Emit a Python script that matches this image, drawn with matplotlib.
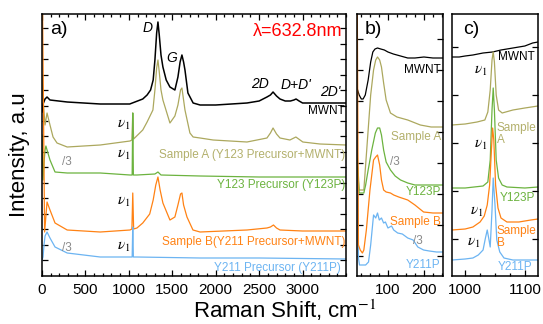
import matplotlib
matplotlib.use('Agg')
import matplotlib.pyplot as plt
from matplotlib.ticker import MultipleLocator, FixedLocator
import numpy as np

plt.rcParams['font.family'] = ['Liberation Sans', 'DejaVu Sans']
plt.rcParams['mathtext.fontset'] = 'stix'

# colours of the five spectra
c_mwnt = 'black'
c_sa = '#aca85e'
c_sa_txt = '#b3b06c'
c_y123 = '#6cb33f'
c_sb = '#ff8214'
c_y211 = '#6cb4f2'
c_div = '#8a8a8a'

# ---- panel a: full range, Raman shift (cm-1) / intensity (a.u., offset)
mwnt_a_x = [0, 12, 35, 58, 92, 290, 670, 1010, 1100, 1160, 1210, 1250, 1280, 1300, 1320,
            1335, 1350, 1370, 1392, 1430, 1473, 1530, 1565, 1590, 1611, 1630, 1646, 1680,
            1740, 1820, 2000, 2360, 2500, 2590, 2630, 2660, 2700, 2740, 2800, 2860, 2900,
            2925, 2960, 3000, 3200, 3500]
mwnt_a_y = [164, 172, 177, 179, 176, 174, 172, 172, 175, 177, 181, 186, 196, 216, 243,
            254, 241, 221, 209, 196, 189, 186, 199, 214, 221, 214, 206, 183,
            173, 171, 171, 173, 175, 179, 181, 184, 180, 177, 175, 175, 176,
            177, 175, 173, 173, 173]

sa_a_x = [0, 12, 35, 58, 92, 127, 173, 290, 670, 1013, 1035, 1045, 1055, 1160, 1210,
          1277, 1300, 1320, 1335, 1350, 1370, 1392, 1473, 1530, 1565, 1595, 1611, 1630,
          1646, 1703, 1740, 1820, 1970, 2360, 2590, 2630, 2660, 2700, 2740, 2854, 2923,
          3003, 3200, 3500]
sa_a_y = [201, 176, 151, 163, 151, 139, 133, 129, 131, 135, 136, 163, 137, 146, 154,
          166, 186, 208, 216, 204, 186, 176, 153, 160, 171, 186, 188, 176,
          166, 143, 139, 138, 136, 134, 138, 143, 148, 142, 138, 136, 139,
          134, 132, 131]

y123_a_x = [0, 12, 23, 35, 45, 58, 92, 150, 290, 670, 1013, 1038, 1045, 1052, 1093,
            1300, 1335, 1370, 1820, 2500, 3500]
y123_a_y = [141, 96, 113, 126, 130, 126, 116, 104, 103, 103, 101, 101, 163, 101, 101,
            102, 104, 101, 100, 99, 99]

sb_a_x = [0, 30, 58, 92, 150, 290, 670, 1013, 1035, 1045, 1055, 1093, 1160, 1240, 1280,
          1310, 1335, 1360, 1392, 1473, 1530, 1565, 1595, 1611, 1630, 1669, 1738, 1820,
          2360, 2590, 2630, 2665, 2700, 2740, 3000, 3500]
sb_a_y = [326, 44, 74, 66, 53, 46, 44, 46, 47, 83, 47, 48, 53, 62, 76,
          91, 99, 86, 73, 56, 59, 71, 82, 83, 71, 59, 46, 44,
          46, 48, 49, 51, 48, 46, 45, 45]

y211_a_x = [0, 12, 23, 35, 58, 92, 150, 290, 670, 1013, 1038, 1045, 1052, 1093, 1820,
            2500, 3500]
y211_a_y = [16, 19, 31, 40, 44, 38, 29, 23, 19, 19, 19, 49, 19, 19, 18, 18, 17]

# ---- panel b: low-frequency region
mwnt_b_x = [14, 20, 26, 31, 37, 45, 52, 58, 64, 71, 80, 90, 100, 115, 135, 155, 175, 200, 225, 253]
mwnt_b_y = [188, 181, 177, 177, 181, 196, 214, 224, 227, 228, 227, 226, 224, 222, 220, 218,
            218, 219, 218, 218]

sa_b_x = [14, 20, 33, 38, 45, 52, 60, 66, 71, 77, 82, 88, 95, 107, 125, 155, 190, 220, 253]
sa_b_y = [126, 86, 86, 111, 146, 181, 206, 216, 219, 216, 209, 193, 176, 163, 159, 156, 151,
          149, 149]

y123_b_x = [14, 20, 33, 38, 45, 55, 65, 71, 77, 82, 88, 95, 107, 120, 135, 155, 175, 199, 225, 253]
y123_b_y = [116, 83, 83, 91, 106, 126, 143, 148, 148, 141, 126, 114, 106, 100, 96, 93, 91, 91,
            91, 91]

sb_b_x = [14, 18, 23, 29, 33, 40, 50, 60, 66, 71, 77, 82, 88, 95, 107, 116, 130, 155, 175, 199,
          225, 253]
sb_b_y = [326, 31, 26, 23, 26, 46, 86, 116, 119, 121, 111, 96, 86, 84, 83, 81, 79, 76, 71, 64,
          63, 63]

y211_b_x = [14, 18, 21, 29, 38, 46, 52, 60, 66, 71, 76, 82, 88, 93, 100, 110, 116, 127, 140,
            155, 170, 183, 199, 215, 235, 253]
y211_b_y = [146, 18, 11, 11, 11, 14, 31, 61, 58, 63, 56, 58, 53, 54, 48, 50, 46, 43, 42,
            38, 36, 29, 26, 25, 24, 24]

# ---- panel c: nu1 region
mwnt_c_x = [978, 990, 1000, 1013, 1030, 1046, 1060, 1080, 1100, 1113, 1122]
mwnt_c_y = [219, 219, 220, 221, 223, 224, 226, 228, 230, 233, 234]

sa_c_x = [978, 1000, 1020, 1033, 1038, 1042, 1045, 1047, 1049, 1052, 1056, 1062, 1080, 1100, 1122]
sa_c_y = [151, 152, 154, 156, 164, 186, 216, 224, 214, 181, 166, 163, 166, 168, 170]

y123_c_x = [978, 1000, 1030, 1038, 1042, 1045, 1047, 1049, 1052, 1056, 1062, 1070, 1100, 1122]
y123_c_y = [88, 88, 90, 94, 116, 166, 188, 166, 116, 98, 91, 89, 88, 89]

sb_c_x = [978, 1000, 1013, 1025, 1032, 1037, 1041, 1044, 1046, 1048, 1051, 1055, 1060, 1070,
          1090, 1110, 1122]
sb_c_y = [46, 47, 49, 54, 60, 71, 91, 126, 148, 136, 91, 68, 58, 54, 54, 56, 57]

y211_c_x = [978, 1000, 1013, 1022, 1030, 1034, 1037, 1040, 1042, 1045, 1047, 1050, 1053, 1058,
            1065, 1080, 1122]
y211_c_y = [16, 17, 18, 21, 26, 38, 46, 36, 29, 66, 98, 71, 36, 24, 18, 16, 16]

W, H = 543, 324
fig = plt.figure(figsize=(W / 100, H / 100), dpi=100)
ax_a = fig.add_axes([42 / W, 1 - 276 / H, 304 / W, 262 / H])
ax_b = fig.add_axes([357 / W, 1 - 276 / H, 86 / W, 262 / H])
ax_c = fig.add_axes([452 / W, 1 - 276 / H, 86 / W, 262 / H])


def draw(ax, series):
    for x, y, col, lw in series:
        ax.plot(x, y, color=col, lw=lw)


draw(ax_a, [(sa_a_x, sa_a_y, c_sa, 0.9), (mwnt_a_x, mwnt_a_y, c_mwnt, 1.1),
            (y123_a_x, y123_a_y, c_y123, 0.9), (sb_a_x, sb_a_y, c_sb, 0.9),
            (y211_a_x, y211_a_y, c_y211, 0.9)])
draw(ax_b, [(y211_b_x, y211_b_y, c_y211, 0.9), (sa_b_x, sa_b_y, c_sa, 0.9),
            (mwnt_b_x, mwnt_b_y, c_mwnt, 0.9), (y123_b_x, y123_b_y, c_y123, 0.9),
            (sb_b_x, sb_b_y, c_sb, 0.9)])
draw(ax_c, [(mwnt_c_x, mwnt_c_y, c_mwnt, 0.9), (sa_c_x, sa_c_y, c_sa, 0.9),
            (y123_c_x, y123_c_y, c_y123, 0.9), (sb_c_x, sb_c_y, c_sb, 0.9),
            (y211_c_x, y211_c_y, c_y211, 0.9)])

ax_a.set_xlim(0, 3500)
ax_b.set_xlim(14, 253)
ax_c.set_xlim(978, 1122)

ax_a.xaxis.set_major_locator(FixedLocator([0, 500, 1000, 1500, 2000, 2500, 3000]))
ax_a.xaxis.set_minor_locator(MultipleLocator(100))
ax_b.xaxis.set_major_locator(FixedLocator([100, 200]))
ax_b.xaxis.set_minor_locator(MultipleLocator(25))
ax_c.xaxis.set_major_locator(FixedLocator([1000, 1100]))
ax_c.xaxis.set_minor_locator(MultipleLocator(25))

ax_a.yaxis.set_major_locator(FixedLocator(np.arange(16, 262, 15.45)))
ax_b.yaxis.set_major_locator(FixedLocator(np.arange(20, 262, 31)))
ax_c.yaxis.set_major_locator(FixedLocator(np.arange(37, 262, 48)))

for ax in (ax_a, ax_b, ax_c):
    ax.set_ylim(0, 262)
    ax.tick_params(which='both', direction='in', top=True, right=True, labelleft=False,
                   width=0.9, labelsize=11, pad=5)
    ax.tick_params(which='major', length=4)
    ax.tick_params(which='minor', length=2.2)
    for s in ax.spines.values():
        s.set_linewidth(1.1)
ax_c.tick_params(which='both', top=False)

# panel a annotations
ax_a.text(90, 246, 'a)', fontsize=14, va='center')
ax_a.text(3464, 245, 'λ=632.8nm', color='red', fontsize=13, ha='right', va='center')
ax_a.text(1220, 248, 'D', fontsize=10, style='italic', ha='center', va='center')
ax_a.text(1496, 218, 'G', fontsize=10, style='italic', ha='center', va='center')
ax_a.text(2509, 192, '2D', fontsize=10, style='italic', ha='center', va='center')
ax_a.text(2923, 191, "D+D'", fontsize=10, style='italic', ha='center', va='center')
ax_a.text(3314, 184, "2D'", fontsize=10, style='italic', ha='center', va='center')
ax_a.text(3490, 165, 'MWNT', fontsize=8.5, ha='right', va='center')
ax_a.text(3490, 121, 'Sample A (Y123 Precursor+MWNT)', color=c_sa_txt, fontsize=8.5,
          ha='right', va='center')
ax_a.text(3490, 91, 'Y123 Precursor (Y123P)', color=c_y123, fontsize=8.5,
          ha='right', va='center')
ax_a.text(3490, 34, 'Sample B(Y211 Precursor+MWNT)', color=c_sb, fontsize=8.5,
          ha='right', va='center')
ax_a.text(3440, 8, 'Y211 Precursor (Y211P)', color=c_y211, fontsize=8.5,
          ha='right', va='center')
ax_a.text(230, 114, '/3', color=c_div, fontsize=8.5, va='center')
ax_a.text(230, 28, '/3', color=c_div, fontsize=8.5, va='center')
for yy in (151, 121, 74, 29):
    ax_a.text(1013, yy, r'$\nu_1$', fontsize=11, ha='right', va='center')

# panel b annotations
ax_b.text(34, 246, 'b)', fontsize=14, va='center')
ax_b.text(247, 206, 'MWNT', fontsize=8.5, ha='right', va='center')
ax_b.text(247, 139, 'Sample A', color=c_sa_txt, fontsize=8.5, ha='right', va='center')
ax_b.text(107, 114, '/3', color=c_div, fontsize=8.5, va='center')
ax_b.text(247, 84, 'Y123P', color=c_y123, fontsize=8.5, ha='right', va='center')
ax_b.text(247, 54, 'Sample B', color=c_sb, fontsize=8.5, ha='right', va='center')
ax_b.text(169, 35, '/3', color=c_div, fontsize=8.5, va='center')
ax_b.text(247, 11, 'Y211P', color=c_y211, fontsize=8.5, ha='right', va='center')

# panel c annotations
ax_c.text(996, 246, 'c)', fontsize=14, va='center')
ax_c.text(1055, 219, 'MWNT', fontsize=8.5, va='center')
ax_c.text(1053, 142, 'Sample\nA', color=c_sa_txt, fontsize=8.5, va='center', linespacing=1.0)
ax_c.text(1058, 78, 'Y123P', color=c_y123, fontsize=8.5, va='center')
ax_c.text(1053, 39, 'Sample\nB', color=c_sb, fontsize=8.5, va='center', linespacing=1.0)
ax_c.text(1055, 9, 'Y211P', color=c_y211, fontsize=8.5, va='center')
ax_c.text(1037, 205, r'$\nu_1$', fontsize=11, ha='right', va='center')
ax_c.text(1037, 131, r'$\nu_1$', fontsize=11, ha='right', va='center')
ax_c.text(1030, 64, r'$\nu_1$', fontsize=11, ha='right', va='center')
ax_c.text(1025, 33, r'$\nu_1$', fontsize=11, ha='right', va='center')

fig.text(285 / W, 1 - 310 / H, 'Raman Shift, cm$^{-1}$', fontsize=16, ha='center', va='center')
fig.text(20 / W, 1 - 155 / H, 'Intensity, a.u', fontsize=16, ha='center', va='center',
         rotation=90)

fig.savefig('out.png', dpi=100)
